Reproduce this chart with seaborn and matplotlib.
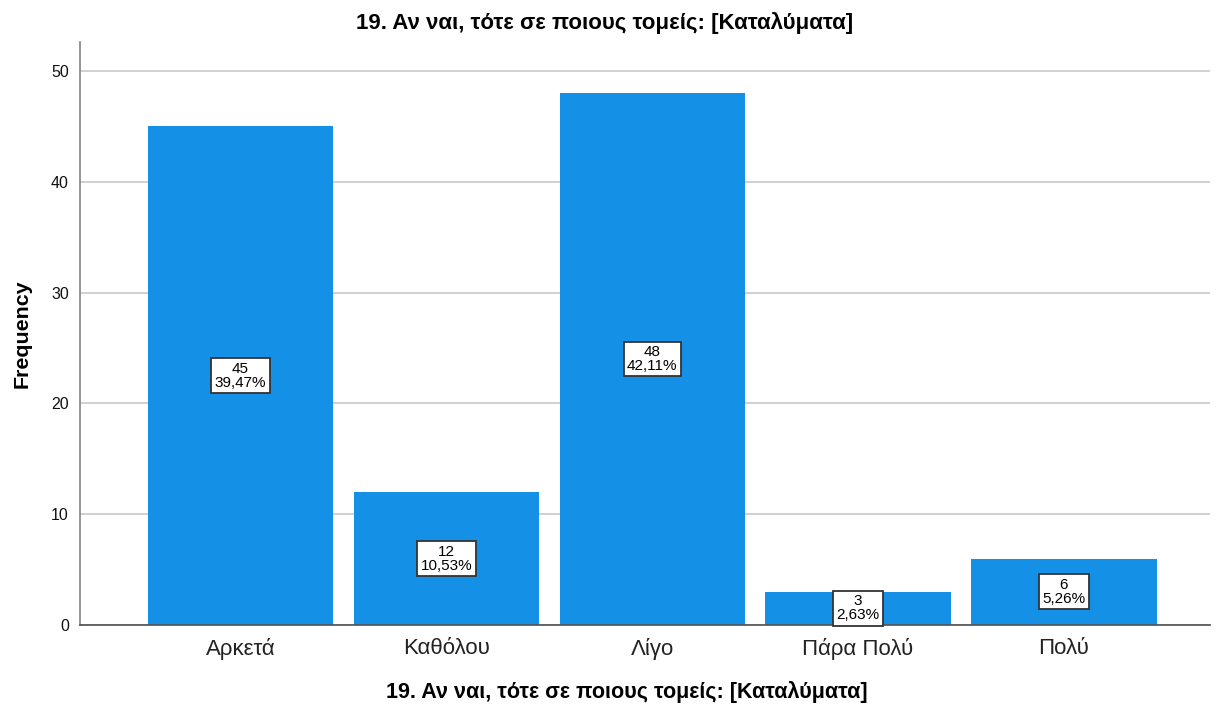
import matplotlib
matplotlib.use("Agg")
import matplotlib.pyplot as plt
import seaborn as sns
import pandas as pd

# Data
categories = ["Αρκετά", "Καθόλου", "Λίγο", "Πάρα Πολύ", "Πολύ"]
counts = [45, 12, 48, 3, 6]
percent_labels = ["39,47%", "10,53%", "42,11%", "2,63%", "5,26%"]

title = "19. Αν ναι, τότε σε ποιους τομείς: [Καταλύματα]"

df = pd.DataFrame({"category": categories, "count": counts})

sns.set_theme(style="white")
plt.rcParams["font.family"] = ["Liberation Sans", "DejaVu Sans"]

fig = plt.figure(figsize=(12.24, 7.1), dpi=100)
ax = fig.add_axes([0.0654, 0.1197, 0.9232, 0.8211])

sns.barplot(data=df, x="category", y="count", color="#1490e6",
            saturation=1, width=0.9, ax=ax, zorder=2, linewidth=0)

# Grid lines and axes
ax.set_ylim(0, 52.6)
ax.set_xlim(-0.78, 4.71)
ax.set_yticks([0, 10, 20, 30, 40, 50])
ax.yaxis.grid(True, color="#c8c8c8", linewidth=1.2, zorder=0)
ax.set_axisbelow(True)
for side in ["top", "right"]:
    ax.spines[side].set_visible(False)
ax.spines["left"].set_color("#888888")
ax.spines["bottom"].set_color("#555555")
ax.tick_params(axis="both", length=0)
ax.tick_params(axis="y", labelsize=11.5, colors="#111111", pad=8)
ax.tick_params(axis="x", labelsize=16, colors="#222222", pad=9)

# Value labels in boxes
for i, (c, p) in enumerate(zip(counts, percent_labels)):
    ax.text(i, c / 2, f"{c}\n{p}", ha="center", va="center", fontsize=11,
            linespacing=1.0, color="#000000", zorder=5,
            bbox=dict(boxstyle="square,pad=0.22", facecolor="white",
                      edgecolor="#333333", linewidth=1.3))

fig.text(0.494, 0.967, title, ha="center", va="center", fontsize=16,
         fontweight="bold", color="#000000")
fig.text(0.512, 0.025, title, ha="center", va="center", fontsize=15.5,
         fontweight="bold", color="#000000")
ax.set_xlabel("")
ax.set_ylabel("Frequency", fontsize=15.4, fontweight="bold", labelpad=14, color="#000000")

fig.savefig("out.png", dpi=100)
